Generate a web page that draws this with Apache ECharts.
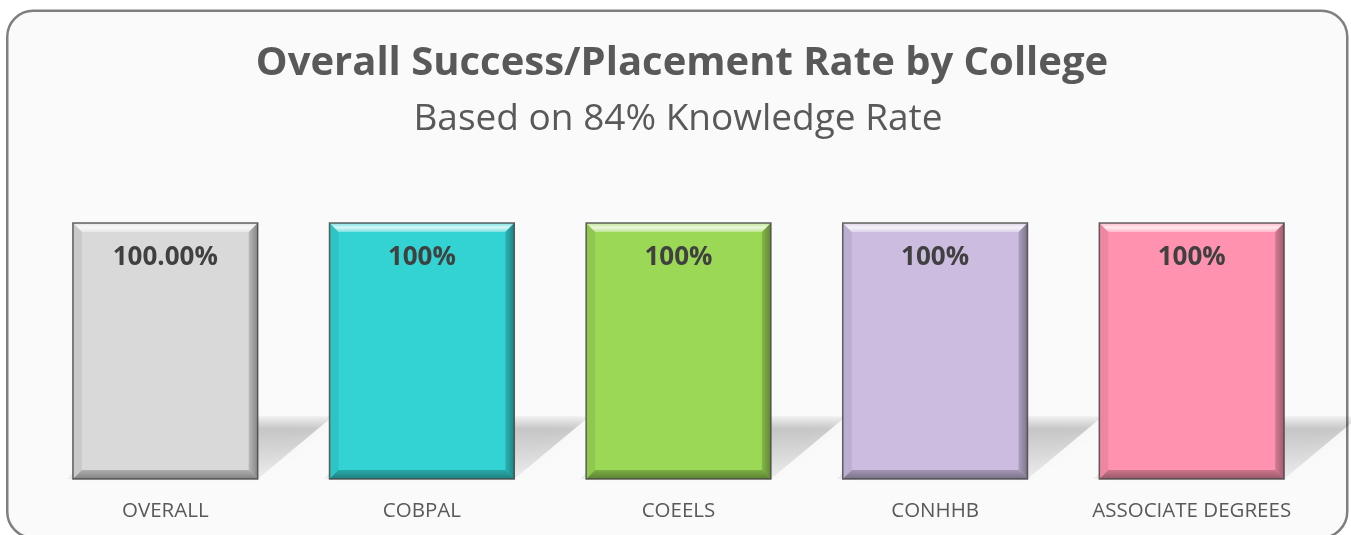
<!DOCTYPE html>
<html>
<head>
<meta charset="utf-8">
<script src="https://cdn.jsdelivr.net/npm/echarts@6/dist/echarts.min.js"></script>
<style>
html,body{margin:0;padding:0;background:#ffffff;}
#chart{width:1351px;height:535px;}
</style>
</head>
<body>
<div id="chart"></div>
<script>
// ---- data ----
var categories = ['OVERALL', 'COBPAL', 'COEELS', 'CONHHB', 'ASSOCIATE DEGREES'];
var values = [100, 100, 100, 100, 100];
var labelTexts = ['100.00%', '100%', '100%', '100%', '100%'];
var barColors = ['#d9d9d9', '#33d3d3', '#9bd855', '#cbbce0', '#ff92ae'];
var titleText = 'Overall Success/Placement Rate by College';
var subtitleText = 'Based on 84% Knowledge Rate';

var FONT = '"Open Sans", sans-serif';
var chart = echarts.init(document.getElementById('chart'), null, {renderer: 'canvas'});

function shadowItem(params, api) {
  var i = api.value(0);
  var base = api.coord([i, 0]);
  var top = api.coord([i, api.value(1)]);
  var w = api.size([1, 0])[0] * 0.72;
  var xL = base[0] - w / 2, xR = base[0] + w / 2, yB = base[1];
  var h = (yB - top[1]) * 0.245;
  var dx = h * 1.2;
  return {
    type: 'polygon',
    shape: {points: [[xL - 6, yB], [xR, yB], [xR + dx, yB - h], [xL + dx - 20, yB - h]]},
    style: {
      fill: new echarts.graphic.LinearGradient(0, 0, 0, 1, [
        {offset: 0, color: 'rgba(0,0,0,0.04)'},
        {offset: 0.2, color: 'rgba(0,0,0,0.19)'},
        {offset: 0.6, color: 'rgba(0,0,0,0.12)'},
        {offset: 1, color: 'rgba(0,0,0,0.05)'}
      ]),
      shadowBlur: 16,
      shadowColor: 'rgba(0,0,0,0.14)'
    }
  };
}

function bevelItem(params, api) {
  var i = api.value(0);
  var base = api.coord([i, 0]);
  var top = api.coord([i, api.value(1)]);
  var w = api.size([1, 0])[0] * 0.72;
  var xL = base[0] - w / 2, xR = base[0] + w / 2, yB = base[1], yT = top[1];
  var b = 9;
  return {
    type: 'group',
    children: [
      {type: 'polygon', shape: {points: [[xL, yT], [xR, yT], [xR - b, yT + b], [xL + b, yT + b]]},
       style: {fill: new echarts.graphic.LinearGradient(0, 0, 0, 1, [
         {offset: 0, color: 'rgba(255,255,255,0.35)'},
         {offset: 0.5, color: 'rgba(255,255,255,0.8)'},
         {offset: 1, color: 'rgba(255,255,255,0.35)'}])}},
      {type: 'polygon', shape: {points: [[xL, yT], [xL + b, yT + b], [xL + b, yB - b], [xL, yB]]},
       style: {fill: 'rgba(0,0,0,0.07)'}},
      {type: 'polygon', shape: {points: [[xR, yT], [xR, yB], [xR - b, yB - b], [xR - b, yT + b]]},
       style: {fill: new echarts.graphic.LinearGradient(1, 0, 0, 0, [
         {offset: 0, color: 'rgba(0,0,0,0.38)'},
         {offset: 1, color: 'rgba(0,0,0,0.15)'}])}},
      {type: 'polygon', shape: {points: [[xL, yB], [xR, yB], [xR - b, yB - b], [xL + b, yB - b]]},
       style: {fill: new echarts.graphic.LinearGradient(0, 1, 0, 0, [
         {offset: 0, color: 'rgba(0,0,0,0.4)'},
         {offset: 1, color: 'rgba(0,0,0,0.2)'}])}},
      {type: 'rect', shape: {x: xL, y: yT, width: xR - xL, height: yB - yT},
       style: {fill: null, stroke: 'rgba(70,70,70,0.85)', lineWidth: 1.5}}
    ]
  };
}

var option = {
  backgroundColor: '#ffffff',
  animation: false,
  graphic: [
    {type: 'rect', left: 6, top: 9.5, z: -10,
     shape: {width: 1340, height: 527, r: 26},
     style: {fill: '#fafafa', stroke: '#7f7f7f', lineWidth: 2.5}}
  ],
  title: [
    {text: titleText, left: 677, top: 39, textAlign: 'center',
     textStyle: {fontFamily: FONT, fontWeight: 'bold', fontSize: 40, color: '#595959'}},
    {text: subtitleText, left: 673, top: 96, textAlign: 'center',
     textStyle: {fontFamily: FONT, fontWeight: 'normal', fontSize: 37, color: '#595959'}}
  ],
  grid: {left: 37, right: 31, top: 223, bottom: 56, containLabel: false},
  xAxis: {
    type: 'category', data: categories,
    axisLine: {show: false}, axisTick: {show: false},
    axisLabel: {color: '#595959', fontSize: 20.5, fontFamily: FONT, margin: 22, interval: 0}
  },
  yAxis: {type: 'value', min: 0, max: 100, show: false, splitLine: {show: false}},
  series: [
    {type: 'custom', renderItem: shadowItem, z: 1, silent: true,
     data: values.map(function (v, i) { return [i, v]; })},
    {type: 'bar', z: 2, barWidth: '72%',
     data: values.map(function (v, i) {
       return {value: v, itemStyle: {color: barColors[i]},
               label: {formatter: labelTexts[i]}};
     }),
     label: {show: true, position: 'insideTop', distance: 22,
             color: '#404040', fontWeight: 'bold', fontSize: 26, fontFamily: FONT}},
    {type: 'custom', renderItem: bevelItem, z: 3, silent: true,
     data: values.map(function (v, i) { return [i, v]; })}
  ]
};
chart.setOption(option);
</script>
</body>
</html>
